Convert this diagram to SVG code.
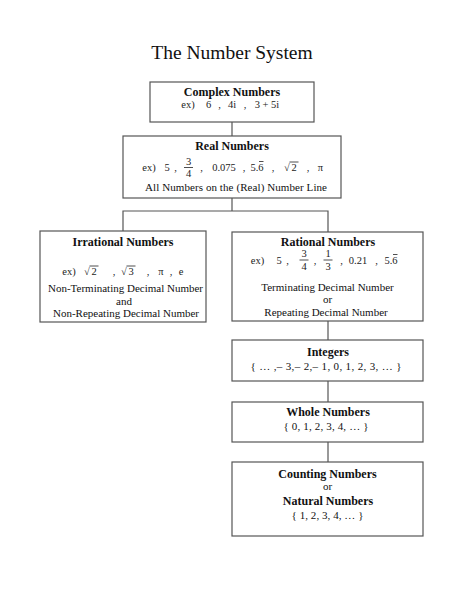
<svg xmlns="http://www.w3.org/2000/svg" width="464" height="600" viewBox="0 0 464 600">
<style>
text{font-family:"Liberation Serif","Times New Roman",serif;fill:#111}
.title{font-size:19.5px}
.h{font-size:12px;font-weight:bold;text-anchor:middle}
.t{font-size:11px;text-anchor:middle}
.e{font-size:10.5px;text-anchor:middle;fill:#222}
.box{fill:#fff;stroke:#555;stroke-width:1.2}
.ln{stroke:#555;stroke-width:1.2;fill:none}
.bar{stroke:#222;stroke-width:0.8}
</style>
<rect width="464" height="600" fill="#fff"/>
<text class="title" x="232" y="59" text-anchor="middle">The Number System</text>

<g id="connectors">
<line class="ln" x1="232" y1="122" x2="232" y2="136"/>
<line class="ln" x1="232" y1="198" x2="232" y2="211"/>
<polyline class="ln" points="123,231 123,211 328,211 328,232"/>
<line class="ln" x1="328" y1="321" x2="328" y2="340"/>
<line class="ln" x1="328" y1="381" x2="328" y2="402"/>
<line class="ln" x1="328" y1="442" x2="328" y2="462"/>
</g>

<g id="complex">
<rect class="box" x="150" y="82" width="164" height="40"/>
<text class="h" x="232" y="96">Complex Numbers</text>
<text class="e" x="188" y="108">ex)</text>
<text class="e" x="208.5" y="108">6</text>
<text class="e" x="219.5" y="108">,</text>
<text class="e" x="232" y="108">4i</text>
<text class="e" x="245" y="108">,</text>
<text class="e" x="267" y="108">3 + 5i</text>
</g>

<g id="real">
<rect class="box" x="123" y="136" width="218" height="62"/>
<text class="h" x="232" y="150">Real Numbers</text>
<text class="e" x="149" y="171">ex)</text>
<text class="e" x="167" y="171">5</text>
<text class="e" x="175.5" y="171">,</text>
<text class="e" x="188.5" y="164.5">3</text>
<line class="bar" x1="184" y1="167.5" x2="193" y2="167.5"/>
<text class="e" x="188.5" y="177">4</text>
<text class="e" x="201.5" y="171">,</text>
<text class="e" x="224" y="171">0.075</text>
<text class="e" x="244" y="171">,</text>
<text class="e" x="257" y="171">5.6</text>
<line class="bar" x1="259" y1="161.5" x2="263.5" y2="161.5"/>
<text class="e" x="273" y="171">,</text>
<text class="e" x="287" y="171">√</text>
<text class="e" x="294" y="171">2</text>
<line class="bar" x1="289.5" y1="162" x2="298.5" y2="162"/>
<text class="e" x="308" y="171">,</text>
<text class="e" x="320.5" y="171">π</text>
<text class="t" x="236" y="191" textLength="182" lengthAdjust="spacing">All Numbers on the (Real) Number Line</text>
</g>

<g id="irrational">
<rect class="box" x="40" y="231" width="166" height="91"/>
<text class="h" x="123" y="246">Irrational Numbers</text>
<text class="e" x="69" y="275">ex)</text>
<text class="e" x="87" y="275">√</text>
<text class="e" x="94" y="275">2</text>
<line class="bar" x1="89.5" y1="266" x2="98.5" y2="266"/>
<text class="e" x="114" y="275">,</text>
<text class="e" x="124" y="275">√</text>
<text class="e" x="131" y="275">3</text>
<line class="bar" x1="126.5" y1="266" x2="135.5" y2="266"/>
<text class="e" x="148" y="275">,</text>
<text class="e" x="161" y="275">π</text>
<text class="e" x="171" y="275">,</text>
<text class="e" x="181" y="275">e</text>
<text class="t" x="125.5" y="292">Non-Terminating Decimal Number</text>
<text class="t" x="124" y="304.5">and</text>
<text class="t" x="126" y="317">Non-Repeating Decimal Number</text>
</g>

<g id="rational">
<rect class="box" x="232" y="232" width="191" height="89"/>
<text class="h" x="328" y="246">Rational Numbers</text>
<text class="e" x="257.5" y="264">ex)</text>
<text class="e" x="279" y="264">5</text>
<text class="e" x="287.5" y="264">,</text>
<text class="e" x="304" y="257">3</text>
<line class="bar" x1="299.5" y1="260" x2="308.5" y2="260"/>
<text class="e" x="304" y="270">4</text>
<text class="e" x="315" y="264">,</text>
<text class="e" x="328" y="257">1</text>
<line class="bar" x1="323.5" y1="260" x2="332.5" y2="260"/>
<text class="e" x="328" y="270">3</text>
<text class="e" x="341.5" y="264">,</text>
<text class="e" x="358" y="264">0.21</text>
<text class="e" x="376.5" y="264">,</text>
<text class="e" x="391" y="264">5.6</text>
<line class="bar" x1="393" y1="254.5" x2="397.5" y2="254.5"/>
<text class="t" x="327.5" y="291">Terminating Decimal Number</text>
<text class="t" x="327.5" y="303">or</text>
<text class="t" x="326" y="316">Repeating Decimal Number</text>
</g>

<g id="integers">
<rect class="box" x="232" y="340" width="191" height="41"/>
<text class="h" x="328" y="356">Integers</text>
<text class="t" x="326" y="369.5" textLength="151" lengthAdjust="spacing">{ … ,– 3,– 2,– 1, 0, 1, 2, 3, … }</text>
</g>

<g id="whole">
<rect class="box" x="232" y="402" width="191" height="40"/>
<text class="h" x="328" y="416">Whole Numbers</text>
<text class="t" x="326" y="429.5" textLength="85" lengthAdjust="spacing">{ 0, 1, 2, 3, 4, … }</text>
</g>

<g id="counting">
<rect class="box" x="232" y="462" width="191" height="74"/>
<text class="h" x="327.5" y="477.5">Counting Numbers</text>
<text class="t" x="327.5" y="490">or</text>
<text class="h" x="328" y="505">Natural Numbers</text>
<text class="t" x="327.5" y="518.5" textLength="72" lengthAdjust="spacing">{ 1, 2, 3, 4, … }</text>
</g>
</svg>
